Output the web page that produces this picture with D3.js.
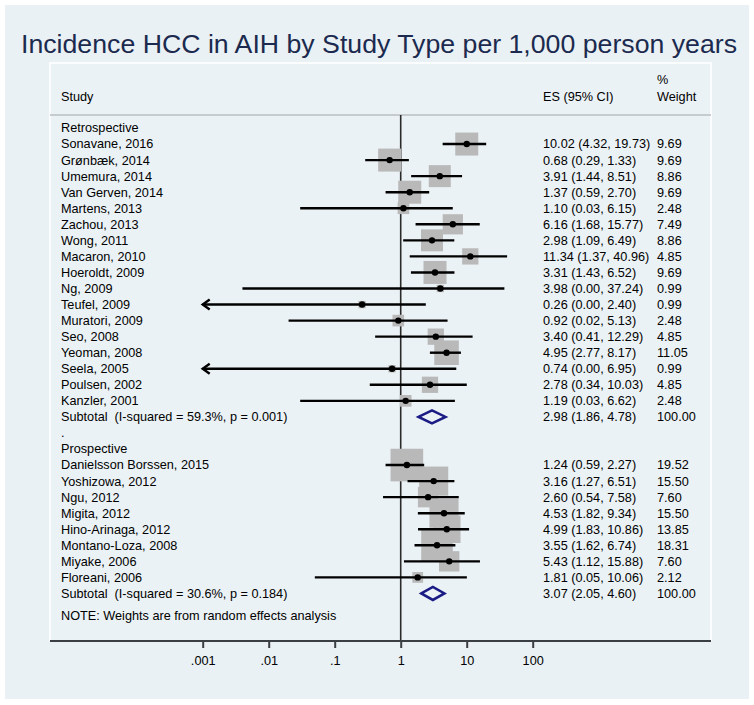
<!DOCTYPE html>
<html><head><meta charset="utf-8">
<script src="https://cdn.jsdelivr.net/npm/d3@7"></script>
<style>
html,body{margin:0;padding:0;background:#fff;}
text{font-family:"Liberation Sans",Arial,Helvetica,sans-serif;white-space:pre;}
</style></head>
<body><svg id="c" width="754" height="705"></svg>
<script>
// ---- data ----
const title = "Incidence HCC in AIH by Study Type per 1,000 person years";
const retroStudies = ["Sonavane, 2016","Grønbæk, 2014","Umemura, 2014","Van Gerven, 2014","Martens, 2013","Zachou, 2013","Wong, 2011","Macaron, 2010","Hoeroldt, 2009","Ng, 2009","Teufel, 2009","Muratori, 2009","Seo, 2008","Yeoman, 2008","Seela, 2005","Poulsen, 2002","Kanzler, 2001"];
const retroES = [10.02,0.68,3.91,1.37,1.10,6.16,2.98,11.34,3.31,3.98,0.26,0.92,3.40,4.95,0.74,2.78,1.19];
const retroLo = [4.32,0.29,1.44,0.59,0.03,1.68,1.09,1.37,1.43,0.004,0.0004,0.02,0.41,2.77,0.0004,0.34,0.03];
const retroHi = [19.73,1.33,8.51,2.70,6.15,15.77,6.49,40.96,6.52,37.24,2.40,5.13,12.29,8.17,6.95,10.03,6.62];
const retroW = [9.69,9.69,8.86,9.69,2.48,7.49,8.86,4.85,9.69,0.99,0.99,2.48,4.85,11.05,0.99,4.85,2.48];
const retroSub = {label:"Subtotal  (I-squared = 59.3%, p = 0.001)", es:2.98, lo:1.86, hi:4.78, w:100.00};

const prosStudies = ["Danielsson Borssen, 2015","Yoshizowa, 2012","Ngu, 2012","Migita, 2012","Hino-Arinaga, 2012","Montano-Loza, 2008","Miyake, 2006","Floreani, 2006"];
const prosES = [1.24,3.16,2.60,4.53,4.99,3.55,5.43,1.81];
const prosLo = [0.59,1.27,0.54,1.82,1.83,1.62,1.12,0.05];
const prosHi = [2.27,6.51,7.58,9.34,10.86,6.74,15.88,10.06];
const prosW = [19.52,15.50,7.60,15.50,13.85,18.31,7.60,2.12];
const prosSub = {label:"Subtotal  (I-squared = 30.6%, p = 0.184)", es:3.07, lo:2.05, hi:4.60, w:100.00};

const tickValues = [0.001,0.01,0.1,1,10,100];
const tickLabels = [".001",".01",".1","1","10","100"];
const noteText = "NOTE: Weights are from random effects analysis";

// ---- layout ----
const svg = d3.select("#c");
const BG = "#e9f1f4";
const box = {l:50, t:63, r:711, b:641};
const row0 = 128, rowH = 16.05;
const colStudy = 61, colES = 543, colW = 657;
const fs = 12.7;

svg.append("rect").attr("x",5).attr("y",5).attr("width",744).attr("height",694).attr("fill",BG);
svg.append("rect").attr("x",box.l).attr("y",box.t).attr("width",box.r-box.l).attr("height",box.b-box.t).attr("fill","#ebf2f5");
svg.append("path").attr("d",`M${box.l},${box.b}V${box.t}H${box.r}V${box.b}`).attr("fill","none").attr("stroke","#ffffff").attr("stroke-width",1.5);

svg.append("text").attr("x",379).attr("y",53).attr("text-anchor","middle")
  .attr("font-size",26.7).attr("fill","#1b2a4e").text(title);

// header
const hdr = svg.append("g").attr("font-size",fs).attr("fill","#000");
hdr.append("text").attr("x",colStudy).attr("y",97).attr("dy","0.35em").text("Study");
hdr.append("text").attr("x",colES).attr("y",97).attr("dy","0.35em").text("ES (95% CI)");
hdr.append("text").attr("x",colW).attr("y",80).attr("dy","0.35em").text("%");
hdr.append("text").attr("x",colW).attr("y",97).attr("dy","0.35em").text("Weight");
svg.append("line").attr("x1",box.l).attr("x2",box.r).attr("y1",115).attr("y2",115).attr("stroke","#c6cbce").attr("stroke-width",2);

// scales
const x = d3.scaleLog().domain([0.001,100]).range([202.7,532.7]);
const xMin = 0.001;
const boxK = 7.39;
const f2 = d => d.toFixed(2);

// build rows
const rows = [];
rows.push({type:"head", label:"Retrospective"});
retroStudies.forEach((s,i)=>rows.push({type:"study",label:s,es:retroES[i],lo:retroLo[i],hi:retroHi[i],w:retroW[i]}));
rows.push(Object.assign({type:"sub"},retroSub));
rows.push({type:"head", label:"."});
rows.push({type:"head", label:"Prospective"});
prosStudies.forEach((s,i)=>rows.push({type:"study",label:s,es:prosES[i],lo:prosLo[i],hi:prosHi[i],w:prosW[i]}));
rows.push(Object.assign({type:"sub"},prosSub));

const yRow = i => row0 + i*rowH;

// reference line at 1
svg.append("line").attr("x1",x(1)).attr("x2",x(1)).attr("y1",115).attr("y2",box.b).attr("stroke","#2a2a2a").attr("stroke-width",1.6);

const g = svg.append("g");
rows.forEach((r,i)=>{
  const y = yRow(i);
  g.append("text").attr("x",colStudy).attr("y",y).attr("dy","0.35em").attr("font-size",fs).attr("fill","#000").text(r.label);
  if (r.type==="study"){
    const s = boxK*Math.sqrt(r.w);
    g.append("rect").attr("x",x(r.es)-s/2).attr("y",y-s/2).attr("width",s).attr("height",s).attr("fill","#b9b9b9");
  }
});
rows.forEach((r,i)=>{
  const y = yRow(i);
  if (r.type==="study"){
    const clipped = r.lo < xMin;
    const x0 = x(Math.max(r.lo,xMin)), x1 = x(r.hi);
    g.append("line").attr("x1",x0).attr("x2",x1).attr("y1",y).attr("y2",y).attr("stroke","#000").attr("stroke-width",2.4);
    if (clipped){
      g.append("path").attr("d",`M${x0+7},${y-5}L${x0},${y}L${x0+7},${y+5}`).attr("fill","none").attr("stroke","#000").attr("stroke-width",2.4);
    }
    g.append("circle").attr("cx",x(r.es)).attr("cy",y).attr("r",3.2).attr("fill","#000");
  }
  if (r.type==="sub"){
    g.append("path").attr("d",`M${x(r.lo)},${y}L${x(r.es)},${y-6.5}L${x(r.hi)},${y}L${x(r.es)},${y+6.5}Z`)
      .attr("fill","none").attr("stroke","#1b1b86").attr("stroke-width",2.5);
  }
  if (r.type==="study"||r.type==="sub"){
    g.append("text").attr("x",colES).attr("y",y).attr("dy","0.35em").attr("font-size",fs).attr("fill","#000")
      .text(`${f2(r.es)} (${f2(r.lo)}, ${f2(r.hi)})`);
    g.append("text").attr("x",colW).attr("y",y).attr("dy","0.35em").attr("font-size",fs).attr("fill","#000").text(f2(r.w));
  }
});

svg.append("text").attr("x",colStudy).attr("y",616).attr("dy","0.35em").attr("font-size",fs).attr("fill","#000").text(noteText);

// axis
svg.append("line").attr("x1",box.l).attr("x2",box.r).attr("y1",box.b).attr("y2",box.b).attr("stroke","#3a3f44").attr("stroke-width",2);
const ax = svg.append("g").attr("transform",`translate(0,${box.b})`)
  .call(d3.axisBottom(x).tickValues(tickValues).tickFormat((d,i)=>tickLabels[i]).tickSize(7).tickPadding(8));
ax.select(".domain").remove();
ax.selectAll(".tick line").attr("stroke","#3a3f44").attr("stroke-width",2);
ax.selectAll(".tick text").attr("font-size",fs).attr("fill","#000").attr("font-family","Liberation Sans, Arial, sans-serif");
</script></body></html>
